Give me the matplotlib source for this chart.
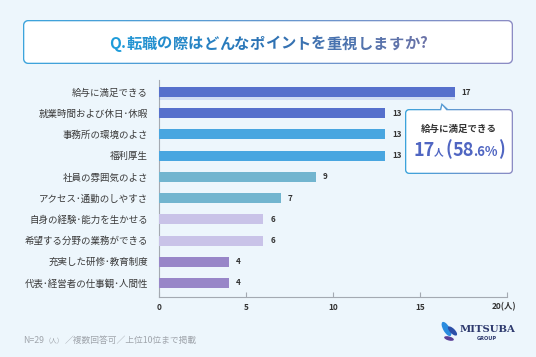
import matplotlib
matplotlib.use('Agg')
import matplotlib.pyplot as plt
import numpy as np
from matplotlib.patches import Polygon, Ellipse
from matplotlib.colors import LinearSegmentedColormap, to_rgb
import matplotlib.patheffects as pe

plt.rcParams['font.family'] = ['Noto Sans CJK JP', 'DejaVu Sans']

# ---------------- data ----------------
categories = ['給与に満足できる', '就業時間および休日･休暇', '事務所の環境のよさ', '福利厚生',
              '社員の雰囲気のよさ', 'アクセス･通勤のしやすさ', '自身の経験･能力を生かせる',
              '希望する分野の業務ができる', '充実した研修･教育制度', '代表･経営者の仕事観･人間性']
values = [17, 13, 13, 13, 9, 7, 6, 6, 4, 4]
bar_colors = ['#5670CC', '#5670CC', '#49A6E0', '#49A6E0', '#72B5CF',
              '#72B5CF', '#C9C3E8', '#C9C3E8', '#9886C8', '#9886C8']
xticks = [0, 5, 10, 15, 20]
xtick_labels = ['0', '5', '10', '15', '20(人)']
title = 'Q.転職の際はどんなポイントを重視しますか?'
total_n = 29
footnote_parts = ['N=29', '（人）', '／複数回答可／上位10位まで掲載']

# ---------------- figure ----------------
W, H = 536, 357
DPI = 100
BG = '#EDF6FC'
fig = plt.figure(figsize=(W / DPI, H / DPI), dpi=DPI, facecolor=BG)

# main axes (pixel geometry)
ax_l, ax_r, ax_t, ax_b = 159, 507, 80, 297
ax = fig.add_axes([ax_l / W, (H - ax_b) / H, (ax_r - ax_l) / W, (ax_b - ax_t) / H])
ax.set_facecolor('none')
ypos = np.arange(len(values))
bars = ax.barh(ypos, values, height=0.47, color=bar_colors, zorder=3)
bars[0].set_path_effects([pe.SimplePatchShadow(offset=(0, -2.5), shadow_rgbFace='#5670CC', alpha=0.18),
                          pe.Normal()])
ax.set_xlim(0, 20)
ax.set_ylim(len(values) - 1 + 0.66, -0.566)
for s in ['top', 'right']:
    ax.spines[s].set_visible(False)
for s in ['left', 'bottom']:
    ax.spines[s].set_color('#A4AAB2')
    ax.spines[s].set_linewidth(0.8)
ax.set_yticks(ypos)
ax.set_yticklabels(categories, fontsize=6.8, color='#3A3A3A')
ax.tick_params(axis='y', length=0, pad=7.9)
ax.set_xticks(xticks)
ax.set_xticklabels(xtick_labels[:-1] + [''], fontsize=6, color='#333333', fontweight='bold')
ax.tick_params(axis='x', direction='in', length=3.5, width=0.8, color='#A4AAB2', pad=4)
ax.annotate(xtick_labels[-1], xy=(xticks[-1], 0), xycoords=('data', 'axes fraction'),
            xytext=(-2, -4), textcoords='offset points', ha='center', va='top',
            fontsize=6, color='#333333', fontweight='bold')
for y, v in zip(ypos, values):
    ax.annotate(str(v), xy=(v, y), xytext=(5, 0), textcoords='offset points',
                ha='left', va='center', fontsize=5.8, color='#333333', fontweight='bold')

# overlay axes in pixel coordinates (y down)
ov = fig.add_axes([0, 0, 1, 1])
ov.set_xlim(0, W)
ov.set_ylim(H, 0)
ov.axis('off')
ov.set_autoscale_on(False)
ov.set_zorder(5)


def rrect_pts(x0, y0, x1, y1, r, notch=None, n=10):
    pts = [(x0 + r, y0)]
    if notch:
        pts += notch
    def arc(cx, cy, a0, a1):
        return [(cx + r * np.cos(t), cy + r * np.sin(t)) for t in np.linspace(a0, a1, n)]
    pts += arc(x1 - r, y0 + r, -np.pi / 2, 0)
    pts += arc(x1 - r, y1 - r, 0, np.pi / 2)
    pts += arc(x0 + r, y1 - r, np.pi / 2, np.pi)
    pts += arc(x0 + r, y0 + r, np.pi, 1.5 * np.pi)
    return pts


def grad_box(outer, inner, c0, c1, z=1):
    poly = Polygon(outer, closed=True, facecolor='none', edgecolor='none', transform=ov.transData, zorder=z)
    ov.add_patch(poly)
    xs = [p[0] for p in outer]
    ys = [p[1] for p in outer]
    cmap = LinearSegmentedColormap.from_list('g', [c0, c1])
    im = ov.imshow(np.linspace(0, 1, 256)[None, :], cmap=cmap, aspect='auto',
                   extent=(min(xs), max(xs), max(ys), min(ys)), zorder=z, interpolation='bilinear')
    im.set_clip_path(poly)
    ov.add_patch(Polygon(inner, closed=True, facecolor='white', edgecolor='none', zorder=z + 0.1))


# title box
grad_box(rrect_pts(23, 20, 513, 64, 5), rrect_pts(24.3, 21.3, 511.7, 62.7, 4),
         '#3CA4DC', '#8C8CC4')
ov.set_xlim(0, W)
ov.set_ylim(H, 0)

renderer = fig.canvas.get_renderer()


def lerp_color(stops, f):
    n = len(stops) - 1
    i = min(int(f * n), n - 1)
    lf = f * n - i
    a, b = np.array(to_rgb(stops[i])), np.array(to_rgb(stops[i + 1]))
    return tuple(a + (b - a) * lf)


# title text with per-character gradient
t_stops = ['#1E9CDA', '#2D72B4', '#6B73A8']
t_fs = 11
chars = list(title)
tobjs, widths = [], []
for i, ch in enumerate(chars):
    t = ov.text(0, 48.5, ch, fontsize=t_fs, fontweight='bold', ha='left', va='baseline',
                color=lerp_color(t_stops, i / (len(chars) - 1)), zorder=3)
    tobjs.append(t)
    widths.append(t.get_window_extent(renderer=renderer).width)
target_w = 318
gap = (target_w - sum(widths)) / (len(chars) - 1)
x = 268 - target_w / 2
for t, w in zip(tobjs, widths):
    t.set_x(x)
    x += w + gap


def draw_pieces(pieces, x_center, y_base, color, z=3):
    objs, ws, gaps = [], [], []
    for s, fs, g in pieces:
        t = ov.text(0, y_base, s, fontsize=fs, fontweight='bold', ha='left', va='baseline',
                    color=color, zorder=z)
        objs.append(t)
        ws.append(t.get_window_extent(renderer=renderer).width)
        gaps.append(g)
    total = sum(ws) + sum(gaps[:-1])
    x = x_center - total / 2
    for t, w, g in zip(objs, ws, gaps):
        t.set_x(x)
        x += w + g


# callout box
notch_o = [(440.0, 109), (441.5, 103.0), (448, 109)]
notch_i = [(441.2, 110.3), (442.3, 105.5), (446.4, 110.3)]
grad_box(rrect_pts(405, 109, 513, 174, 4, notch_o), rrect_pts(406.3, 110.3, 511.7, 172.7, 3, notch_i),
         '#3CA4DC', '#8C8CC4')
ov.set_xlim(0, W)
ov.set_ylim(H, 0)
ov.text(458.5, 128.5, categories[0], fontsize=6.8, fontweight='bold', color='#333333',
        ha='center', va='center', zorder=3)
pct = values[0] / total_n * 100
pct_s = f'{pct:.1f}'
p_int, p_dec = pct_s.split('.')
draw_pieces([(str(values[0]), 13, -0.5), ('人', 7, 2.0), ('(', 13, 0.5), (p_int, 13, -1.5),
             ('.' + p_dec + '%', 9.5, 0.8), (')', 13, 0)],
            459, 155.5, '#5066C2')

# footnote
fx = 23
for s, fs in zip(footnote_parts, [6.3, 4.6, 6.3]):
    t = ov.text(fx, 343, s, fontsize=fs, color='#A0A5AC', ha='left', va='baseline', zorder=3)
    fx += t.get_window_extent(renderer=renderer).width + 0.8

# logo
ov.add_patch(Ellipse((446.5, 329), 6.5, 16, angle=-30, facecolor='#2A8CDF', edgecolor='none', zorder=3))
ov.add_patch(Ellipse((452.5, 331), 5.0, 12, angle=-45, facecolor='#2C4FA8', edgecolor='none', zorder=3))
ov.add_patch(Ellipse((449, 338.5), 4.0, 10, angle=-75, facecolor='#5A3F96', edgecolor='none', zorder=3))
ov.text(487, 329, 'MITSUBA', fontsize=7.3, fontweight='bold', family='DejaVu Serif',
        color='#2E3A6E', ha='center', va='center', zorder=3)
ov.text(487, 338, 'GROUP', fontsize=3.6, fontweight='bold', family='DejaVu Sans',
        color='#2E3A6E', ha='center', va='center', zorder=3)

fig.savefig('out.png', dpi=DPI, facecolor=BG)
